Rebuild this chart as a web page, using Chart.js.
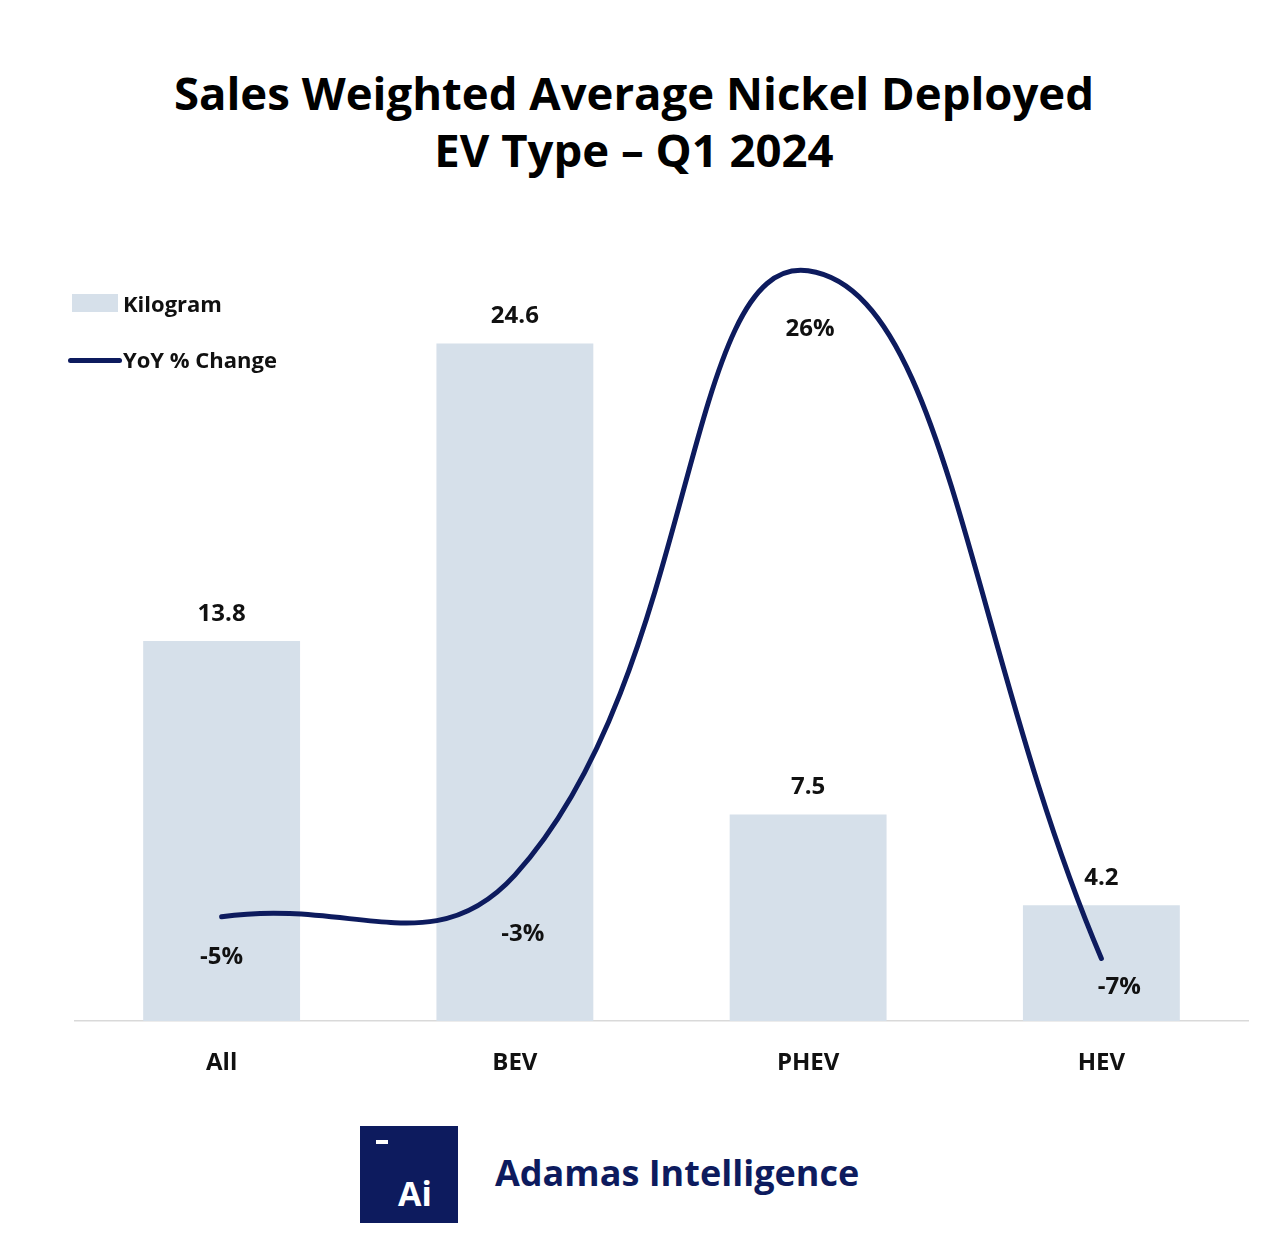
<!DOCTYPE html>
<html><head><meta charset="utf-8">
<script src="https://cdn.jsdelivr.net/npm/chart.js@4"></script>
<style>
body{margin:0;width:1280px;height:1254px;background:#fff;position:relative;font-family:"DejaVu Sans",sans-serif;overflow:hidden}
#title{position:absolute;top:64px;left:0;width:1268px;text-align:center;font-weight:bold;font-size:45.5px;line-height:57px;color:#000;font-family:"Open Sans","DejaVu Sans",sans-serif}
#wrap{position:absolute;left:0;top:0;width:1280px;height:1100px}
.leg{position:absolute;font-weight:bold;font-size:22px;color:#111;font-family:"Open Sans",sans-serif}
#logo{position:absolute;left:360px;top:1126px;width:98px;height:97px;background:#0d1b5e;color:#fff}
#brand{position:absolute;left:495px;top:1148px;font-size:36px;font-weight:bold;color:#0d1b5e;font-family:"Open Sans",sans-serif}
</style></head><body>
<div id="title">Sales Weighted Average Nickel Deployed<br>EV Type – Q1 2024</div>
<div id="wrap"><canvas id="c" width="1280" height="1100"></canvas></div>
<div style="position:absolute;left:72px;top:294px;width:46px;height:18px;background:#d6e0ea"></div>
<div class="leg" style="left:123px;top:288px">Kilogram</div>
<div style="position:absolute;left:68px;top:358px;width:54px;height:5px;background:#0d1b5e;border-radius:3px"></div>
<div class="leg" style="left:123px;top:344px">YoY % Change</div>
<div id="logo"><div style="position:absolute;left:16px;top:14px;width:12px;height:4px;background:#fff"></div><div style="position:absolute;left:38px;top:44px;font-size:34px;font-weight:bold;font-family:'Open Sans',sans-serif">Ai</div></div>
<div id="brand">Adamas Intelligence</div>
<script>
const categories=["All","BEV","PHEV","HEV"];
const kilograms=[13.8,24.6,7.5,4.2];
const yoyChange=[-5,-3,26,-7];
const yoyLabels=["-5%","-3%","26%","-7%"];
const navy="#0d1b5e";
const labelPlugin={id:"lbl",afterDatasetsDraw(chart){
  const ctx=chart.ctx;ctx.save();
  ctx.font="bold 24px 'Open Sans','DejaVu Sans',sans-serif";ctx.fillStyle="#111";ctx.textAlign="center";ctx.textBaseline="middle";
  chart.getDatasetMeta(0).data.forEach((el,i)=>{ctx.fillText(String(kilograms[i]),el.x,el.y-27);});
  const offs=[[0,40],[8,59],[2,58],[18,29]];
  chart.getDatasetMeta(1).data.forEach((el,i)=>{ctx.fillText(yoyLabels[i],el.x+offs[i][0],el.y+offs[i][1]);});
  ctx.restore();}};
new Chart(document.getElementById("c"),{
  data:{labels:categories,datasets:[
    {type:"bar",data:kilograms,backgroundColor:"#d6e0ea",yAxisID:"y",categoryPercentage:1,barPercentage:0.535,order:2},
    {type:"line",data:yoyChange,borderColor:navy,borderWidth:5,tension:0.45,pointRadius:0,yAxisID:"y1",order:1,borderCapStyle:"round"}]},
  options:{responsive:false,animation:false,
    layout:{padding:{left:75,right:32,top:250,bottom:0}},
    plugins:{legend:{display:false},tooltip:{enabled:false}},
    scales:{
      x:{grid:{display:false},border:{display:true,color:"#d9d9d9",width:1.5},
        ticks:{padding:20,color:"#111",font:{size:24,weight:"bold",family:"'Open Sans','DejaVu Sans',sans-serif"}},
        afterFit(s){s.height=79;}},
      y:{display:false,min:0,max:28},
      y1:{display:false,min:-10,max:27}}},
  plugins:[labelPlugin]});
</script></body></html>
